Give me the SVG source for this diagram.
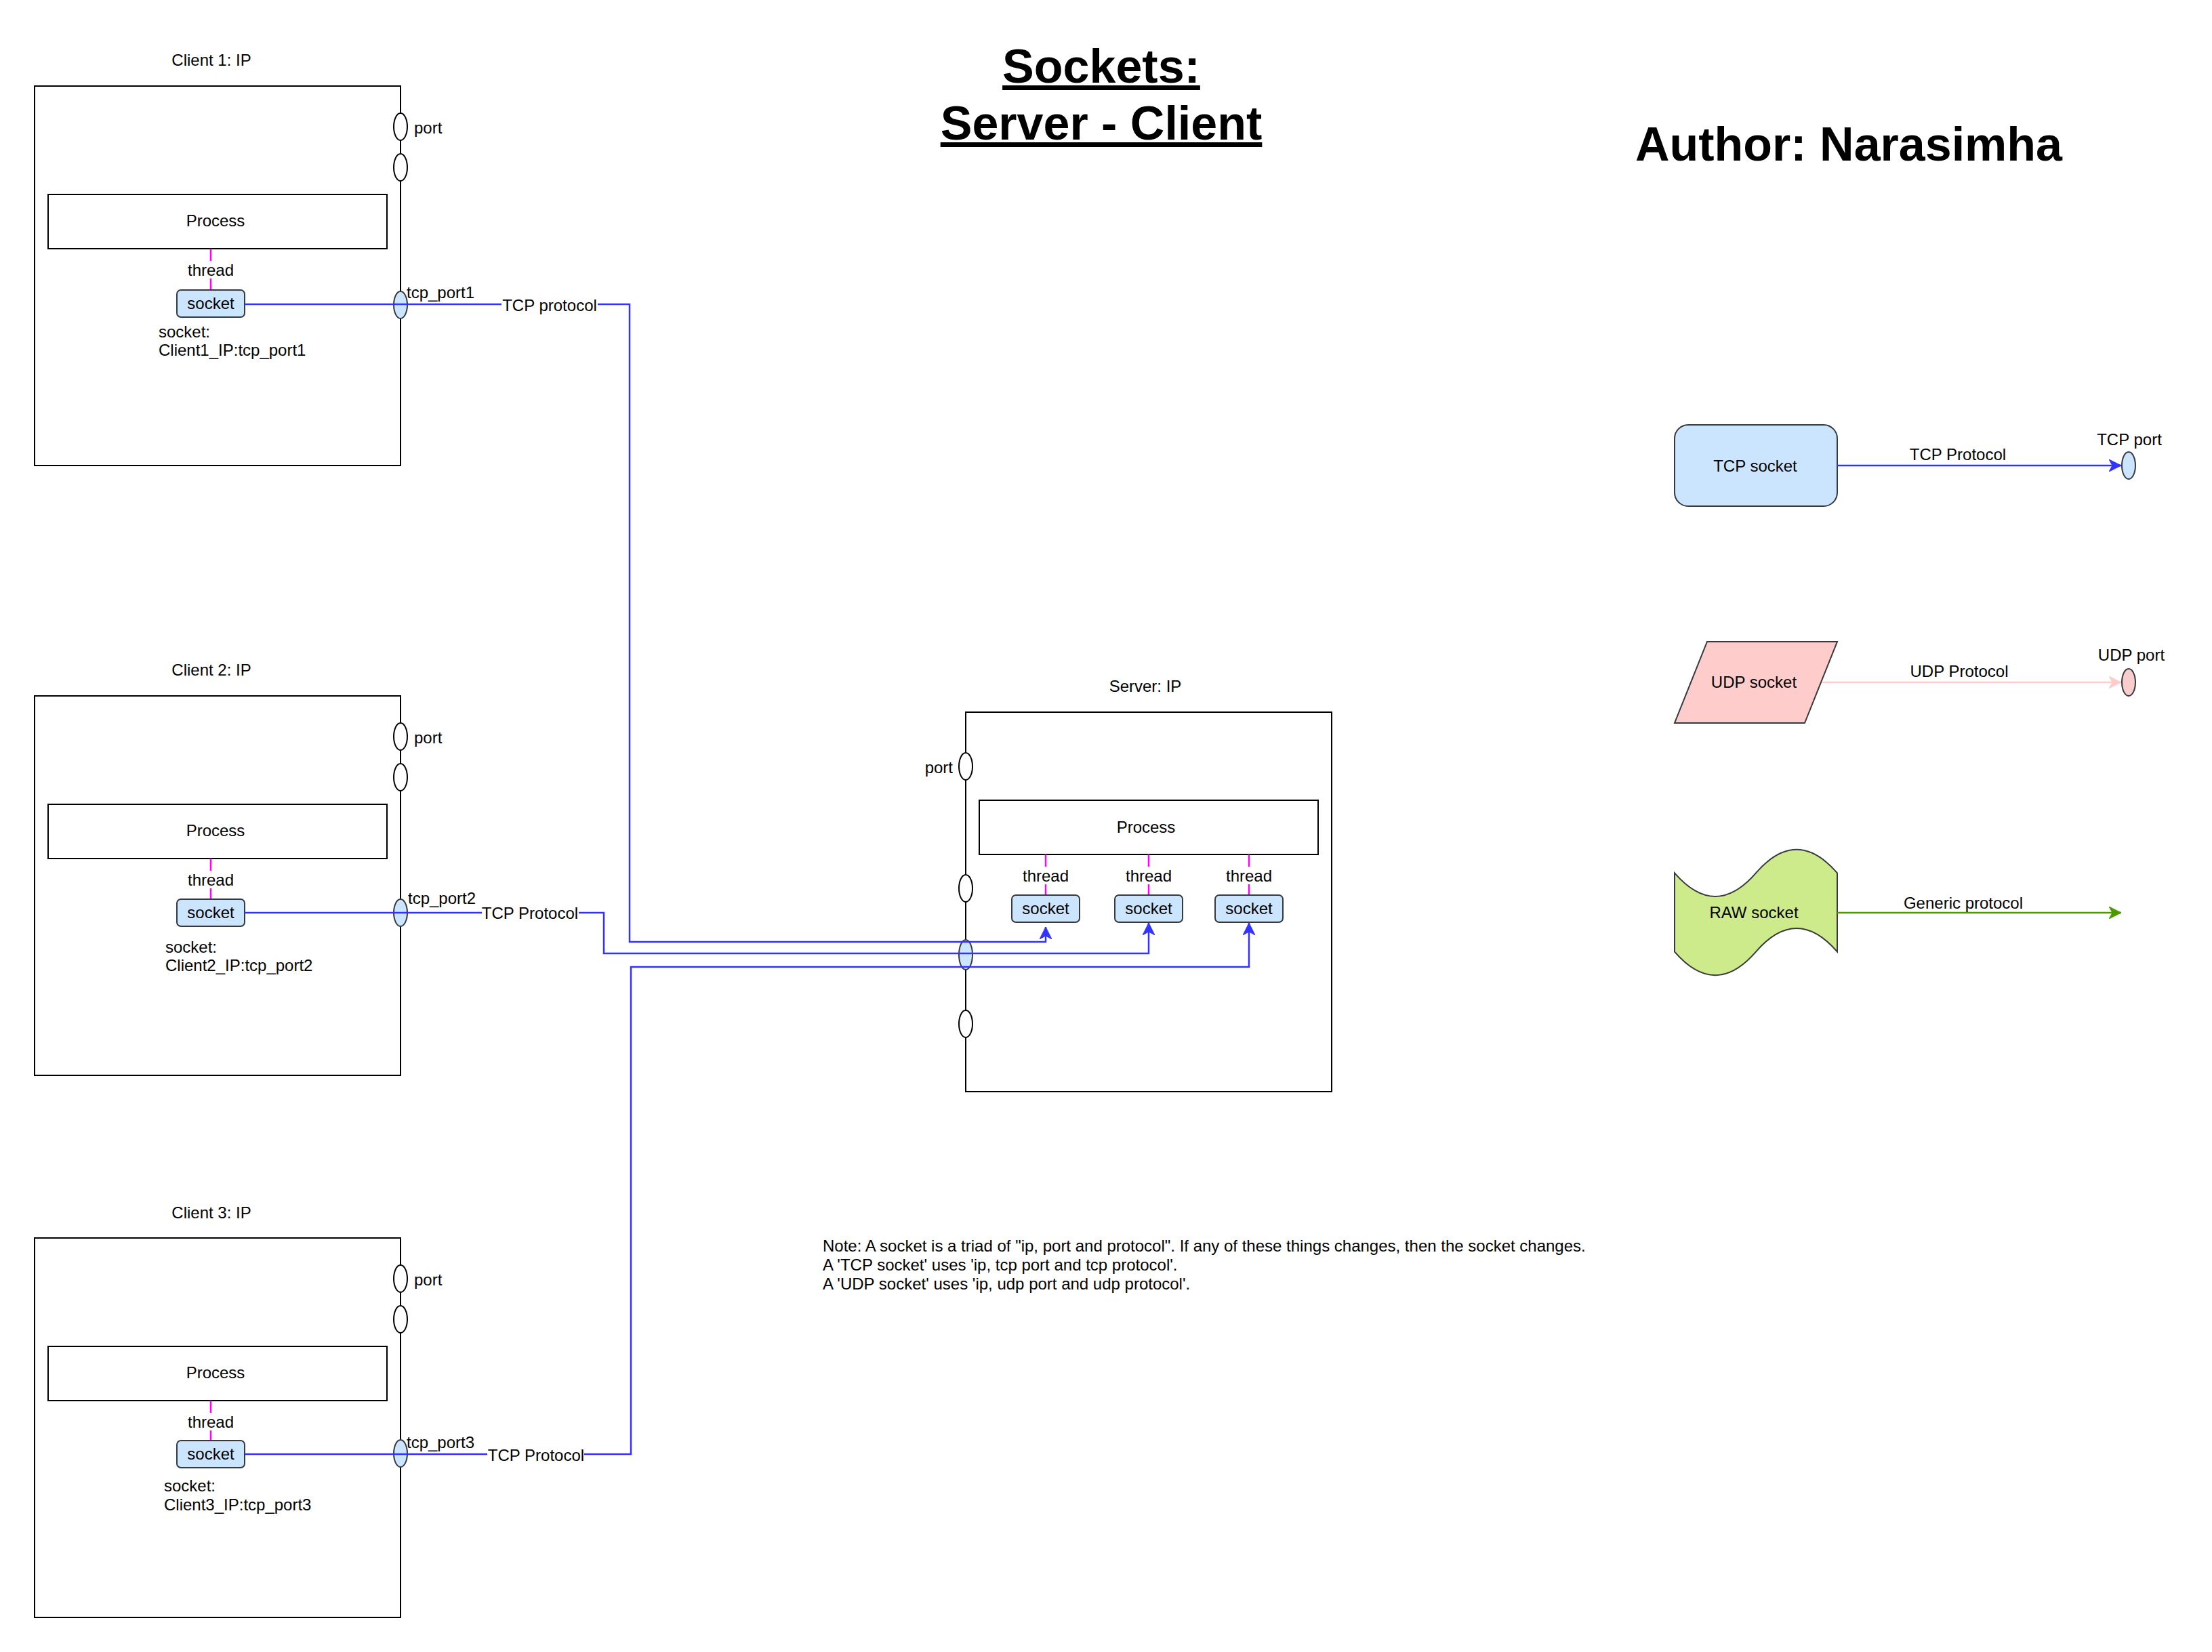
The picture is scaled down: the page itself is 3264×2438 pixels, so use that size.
<svg xmlns="http://www.w3.org/2000/svg" width="3264" height="2438" viewBox="0 0 3264 2438">
<style>
text{font-family:"Liberation Sans",Arial,sans-serif;font-size:24px;fill:#000}
.c{text-anchor:middle;dominant-baseline:central}
.l{text-anchor:start;dominant-baseline:central}
.r{text-anchor:end;dominant-baseline:central}
.box{fill:#fff;stroke:#000;stroke-width:2}
.port{fill:#fff;stroke:#000;stroke-width:2}
.tport{fill:#cce5ff;stroke:#36393d;stroke-width:2}
.sock{fill:#cce5ff;stroke:#36393d;stroke-width:2}
.thr{stroke:#ff00ff;stroke-width:2.5;fill:none}
.tcp{stroke:#3333ff;stroke-width:2.5;fill:none}
.bg{fill:#fff}
.title{font-weight:bold;font-size:70px;text-anchor:middle;text-decoration:underline}
</style>
<defs>
<marker id="ab" markerUnits="userSpaceOnUse" markerWidth="20" markerHeight="18" refX="18" refY="9" orient="auto">
<path d="M0,0 L18,9 L0,18 L5,9 z" fill="#3333ff" stroke="#3333ff" stroke-width="1"/>
</marker>
<marker id="ap" markerUnits="userSpaceOnUse" markerWidth="20" markerHeight="18" refX="18" refY="9" orient="auto">
<path d="M0,0 L18,9 L0,18 L5,9 z" fill="#ffcccc" stroke="#ffcccc" stroke-width="1"/>
</marker>
<marker id="ag" markerUnits="userSpaceOnUse" markerWidth="20" markerHeight="18" refX="18" refY="9" orient="auto">
<path d="M0,0 L18,9 L0,18 L5,9 z" fill="#4d9900" stroke="#4d9900" stroke-width="1"/>
</marker>
</defs>
<rect width="3264" height="2438" fill="#fff"/>

<g id="titles">
<text class="title" x="1625" y="122">Sockets:</text>
<text class="title" x="1625" y="206">Server - Client</text>
<text x="2728" y="237" style="font-weight:bold;font-size:70px;text-anchor:middle">Author: Narasimha</text>
</g>

<g id="client1">
<text class="c" x="312" y="88">Client 1: IP</text>
<rect class="box" x="51" y="127" width="540" height="560"/>
<ellipse class="port" cx="591" cy="187" rx="10" ry="20"/>
<text class="l" x="611" y="188">port</text>
<ellipse class="port" cx="591" cy="247" rx="10" ry="20"/>
<rect class="box" x="71" y="287" width="500" height="80"/>
<text class="c" x="318" y="325">Process</text>
<line class="thr" x1="311" y1="367" x2="311" y2="428"/>
<rect class="bg" x="278" y="385" width="66" height="26"/>
<text class="c" x="311" y="398">thread</text>
<rect class="sock" x="261" y="428" width="100" height="40" rx="6"/>
<text class="c" x="311" y="447">socket</text>
<text class="l" x="234" y="489">socket:</text>
<text class="l" x="234" y="516">Client1_IP:tcp_port1</text>
<ellipse class="tport" cx="591" cy="450" rx="10" ry="20"/>
<text class="l" x="600" y="431">tcp_port1</text>
</g>

<g id="client2">
<text class="c" x="312" y="988">Client 2: IP</text>
<rect class="box" x="51" y="1027" width="540" height="560"/>
<ellipse class="port" cx="591" cy="1087" rx="10" ry="20"/>
<text class="l" x="611" y="1088">port</text>
<ellipse class="port" cx="591" cy="1147" rx="10" ry="20"/>
<rect class="box" x="71" y="1187" width="500" height="80"/>
<text class="c" x="318" y="1225">Process</text>
<line class="thr" x1="311" y1="1267" x2="311" y2="1327"/>
<rect class="bg" x="278" y="1285" width="66" height="26"/>
<text class="c" x="311" y="1298">thread</text>
<rect class="sock" x="261" y="1327" width="100" height="40" rx="6"/>
<text class="c" x="311" y="1346">socket</text>
<text class="l" x="244" y="1397">socket:</text>
<text class="l" x="244" y="1424">Client2_IP:tcp_port2</text>
<ellipse class="tport" cx="591" cy="1347" rx="10" ry="20"/>
<text class="l" x="602" y="1325">tcp_port2</text>
</g>

<g id="client3">
<text class="c" x="312" y="1789">Client 3: IP</text>
<rect class="box" x="51" y="1827" width="540" height="560"/>
<ellipse class="port" cx="591" cy="1887" rx="10" ry="20"/>
<text class="l" x="611" y="1888">port</text>
<ellipse class="port" cx="591" cy="1947" rx="10" ry="20"/>
<rect class="box" x="71" y="1987" width="500" height="80"/>
<text class="c" x="318" y="2025">Process</text>
<line class="thr" x1="311" y1="2067" x2="311" y2="2126"/>
<rect class="bg" x="278" y="2085" width="66" height="26"/>
<text class="c" x="311" y="2098">thread</text>
<rect class="sock" x="261" y="2126" width="100" height="40" rx="6"/>
<text class="c" x="311" y="2145">socket</text>
<text class="l" x="242" y="2192">socket:</text>
<text class="l" x="242" y="2220">Client3_IP:tcp_port3</text>
<ellipse class="tport" cx="591" cy="2145" rx="10" ry="20"/>
<text class="l" x="600" y="2128">tcp_port3</text>
</g>

<g id="server">
<text class="c" x="1690" y="1012">Server: IP</text>
<rect class="box" x="1425" y="1051" width="540" height="560"/>
<ellipse class="port" cx="1425" cy="1131" rx="10" ry="20"/>
<text class="r" x="1406" y="1132">port</text>
<ellipse class="port" cx="1425" cy="1311" rx="10" ry="20"/>
<ellipse class="tport" cx="1425" cy="1409" rx="10" ry="22"/>
<ellipse class="port" cx="1425" cy="1511" rx="10" ry="20"/>
<rect class="box" x="1445" y="1181" width="500" height="80"/>
<text class="c" x="1691" y="1220">Process</text>
<line class="thr" x1="1543" y1="1261" x2="1543" y2="1321"/>
<line class="thr" x1="1695" y1="1261" x2="1695" y2="1321"/>
<line class="thr" x1="1843" y1="1261" x2="1843" y2="1321"/>
<rect class="bg" x="1510" y="1279" width="66" height="26"/>
<rect class="bg" x="1662" y="1279" width="66" height="26"/>
<rect class="bg" x="1810" y="1279" width="66" height="26"/>
<text class="c" x="1543" y="1292">thread</text>
<text class="c" x="1695" y="1292">thread</text>
<text class="c" x="1843" y="1292">thread</text>
<rect class="sock" x="1493" y="1321" width="100" height="40" rx="6"/>
<rect class="sock" x="1645" y="1321" width="100" height="40" rx="6"/>
<rect class="sock" x="1793" y="1321" width="100" height="40" rx="6"/>
<text class="c" x="1543" y="1340">socket</text>
<text class="c" x="1695" y="1340">socket</text>
<text class="c" x="1843" y="1340">socket</text>
</g>

<g id="connectors">
<polyline class="tcp" points="361,449 929,449 929,1390 1543,1390 1543,1368" marker-end="url(#ab)"/>
<polyline class="tcp" points="361,1347 891,1347 891,1407 1695,1407 1695,1362" marker-end="url(#ab)"/>
<polyline class="tcp" points="361,2146 931,2146 931,1427 1843,1427 1843,1362" marker-end="url(#ab)"/>
<rect class="bg" x="740" y="436" width="142" height="28"/>
<text class="c" x="811" y="450">TCP protocol</text>
<rect class="bg" x="711" y="1333" width="143" height="28"/>
<text class="c" x="782" y="1347">TCP Protocol</text>
<rect class="bg" x="719" y="2132" width="143" height="28"/>
<text class="c" x="791" y="2147">TCP Protocol</text>
</g>

<g id="legend-tcp">
<rect x="2471" y="627" width="240" height="120" rx="20" fill="#cce5ff" stroke="#36393d" stroke-width="2"/>
<text class="c" x="2590" y="687">TCP socket</text>
<line x1="2711" y1="687" x2="3130" y2="687" stroke="#3333ff" stroke-width="2.5" marker-end="url(#ab)"/>
<text class="c" x="2889" y="670">TCP Protocol</text>
<ellipse class="tport" cx="3141" cy="687" rx="10" ry="20"/>
<text class="c" x="3142" y="648">TCP port</text>
</g>

<g id="legend-udp">
<polygon points="2519,947 2711,947 2663,1067 2471,1067" fill="#ffcccc" stroke="#36393d" stroke-width="2"/>
<text class="c" x="2588" y="1006">UDP socket</text>
<line x1="2689" y1="1007" x2="3130" y2="1007" stroke="#ffcccc" stroke-width="2.5" marker-end="url(#ap)"/>
<text class="c" x="2891" y="990">UDP Protocol</text>
<ellipse cx="3141" cy="1007" rx="10" ry="20" fill="#f8cecc" stroke="#36393d" stroke-width="2"/>
<text class="c" x="3145" y="966">UDP port</text>
</g>

<g id="legend-raw">
<path d="M2471,1288.4 Q2531,1357.5 2591,1288.4 Q2651,1219.3 2711,1288.4 L2711,1404.6 Q2651,1335.5 2591,1404.6 Q2531,1473.7 2471,1404.6 Z" fill="#cdeb8b" stroke="#36393d" stroke-width="2"/>
<text class="c" x="2588" y="1346">RAW socket</text>
<line x1="2711" y1="1347" x2="3130" y2="1347" stroke="#4d9900" stroke-width="2.5" marker-end="url(#ag)"/>
<text class="c" x="2897" y="1332">Generic protocol</text>
</g>

<g id="note">
<text class="l" x="1214" y="1838">Note: A socket is a triad of "ip, port and protocol". If any of these things changes, then the socket changes.</text>
<text class="l" x="1214" y="1866">A 'TCP socket' uses 'ip, tcp port and tcp protocol'.</text>
<text class="l" x="1214" y="1894">A 'UDP socket' uses 'ip, udp port and udp protocol'.</text>
</g>
</svg>
